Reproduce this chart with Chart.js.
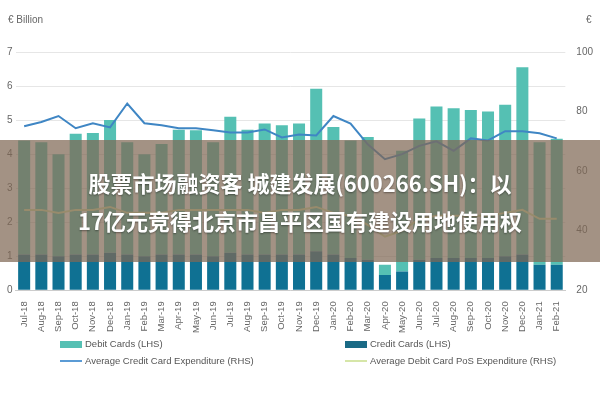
<!DOCTYPE html>
<html><head><meta charset="utf-8">
<script src="https://cdn.jsdelivr.net/npm/chart.js@4/dist/chart.umd.min.js"></script>
<style>
body{margin:0;background:#fff;font-family:"Liberation Sans",Arial,sans-serif}
#wrap{position:relative;width:600px;height:400px}
#c{position:absolute;left:0;top:0}
.unit{position:absolute;top:14px;font-size:10px;color:#666}
#banner{position:absolute;left:0;top:140px;width:600px;height:122px;background:rgba(128,104,84,0.72);
 color:#fff;font:bold 22px "Noto Sans CJK SC",sans-serif;text-align:center;line-height:38px;padding-top:23px;box-sizing:border-box;
 text-shadow:0 1px 2px rgba(0,0,0,.4)}
#legend{position:absolute;left:60px;top:338px;width:520px;font-size:9.5px;color:#555}
#legend div{position:absolute;white-space:nowrap}
#legend i{display:inline-block;width:22px;vertical-align:middle;margin-right:3px}
</style></head><body>
<div id="wrap">
<canvas id="c" width="600" height="400"></canvas>
<div class="unit" style="left:8px">€ Billion</div>
<div class="unit" style="left:586px">€</div>
<div id="banner">股票市场融资客 城建发展(600266.SH)：以<br>17亿元竞得北京市昌平区国有建设用地使用权</div>
<div id="legend">
 <div style="left:0;top:0"><i style="height:7px;background:#55c0b3"></i>Debit Cards (LHS)</div>
 <div style="left:285px;top:0"><i style="height:7px;background:#1a6a85"></i>Credit Cards (LHS)</div>
 <div style="left:0;top:17px"><i style="height:2px;background:#5b9bd5"></i>Average Credit Card Expenditure (RHS)</div>
 <div style="left:285px;top:17px"><i style="height:2px;background:#d6e6a8"></i>Average Debit Card PoS Expenditure (RHS)</div>
</div>
</div>
<script>
const labels = ['Jul-18','Aug-18','Sep-18','Oct-18','Nov-18','Dec-18','Jan-19','Feb-19','Mar-19','Apr-19','May-19','Jun-19',
  'Jul-19','Aug-19','Sep-19','Oct-19','Nov-19','Dec-19','Jan-20','Feb-20','Mar-20','Apr-20','May-20','Jun-20',
  'Jul-20','Aug-20','Sep-20','Oct-20','Nov-20','Dec-20','Jan-21','Feb-21'];
const creditCards = [1.05,1.05,1.0,1.05,1.05,1.1,1.05,1.0,1.05,1.05,1.05,1.0,1.1,1.05,1.05,1.05,1.05,1.15,1.05,0.95,0.9,0.45,0.55,0.9,0.95,0.95,0.95,0.95,1.0,1.05,0.75,0.75];
const totals = [4.4,4.35,4.0,4.6,4.62,5.0,4.35,4.0,4.3,4.72,4.7,4.35,5.1,4.72,4.9,4.85,4.9,5.92,4.8,4.4,4.5,0.75,4.1,5.05,5.4,5.35,5.3,5.25,5.45,6.55,4.35,4.45];
const debitCards = totals.map((t,i)=>+(t-creditCards[i]).toFixed(2));
const avgCredit = [75.1,76.5,78.5,74.4,76.1,74.7,82.7,76.1,75.4,74.4,74.4,73.7,73.0,73.0,74.0,71.3,72.3,72.0,78.5,76,69,64,65.7,68.5,70,66.8,71,70.3,73.4,73.4,72.7,71];
const avgDebitPos = [47,47,46,47,47,48,46,46,46,47,47,47,47,47,46,47,47,48,46,45,42,38,40,44,45,45,45,45,46,47,44,44];

new Chart(document.getElementById('c'), {
  data: {
    labels,
    datasets: [
      {type:'line', label:'Average Credit Card Expenditure (RHS)', data:avgCredit, yAxisID:'y1',
       borderColor:'#3f86c4', borderWidth:2, pointRadius:0, tension:0, order:0},
      {type:'line', label:'Average Debit Card PoS Expenditure (RHS)', data:avgDebitPos, yAxisID:'y1',
       borderColor:'#d6e6a8', borderWidth:2, pointRadius:0, tension:0, order:1},
      {type:'bar', label:'Credit Cards (LHS)', data:creditCards, backgroundColor:'#0f7193', stack:'s', barPercentage:0.7, categoryPercentage:1, order:2},
      {type:'bar', label:'Debit Cards (LHS)', data:debitCards, backgroundColor:'#55c0b3', stack:'s', barPercentage:0.7, categoryPercentage:1, order:3}
    ]
  },
  options: {
    responsive:false, animation:false,
    layout:{padding:{left:4,right:4,top:52,bottom:64}},
    plugins:{legend:{display:false}, tooltip:{enabled:false}},
    scales:{
      x:{stacked:true, grid:{display:false}, border:{color:'#ccc'},
         ticks:{maxRotation:90, minRotation:90, autoSkip:false, color:'#666', font:{size:9.5}}},
      y:{stacked:true, min:0, max:7, ticks:{stepSize:1, color:'#666', font:{size:10}},
         grid:{color:'#e6e6e6', drawTicks:false}, border:{display:false}},
      y1:{position:'right', min:20, max:100, ticks:{stepSize:20, color:'#666', font:{size:10}},
         grid:{display:false}, border:{display:false}}
    }
  }
});
</script>
</body></html>
